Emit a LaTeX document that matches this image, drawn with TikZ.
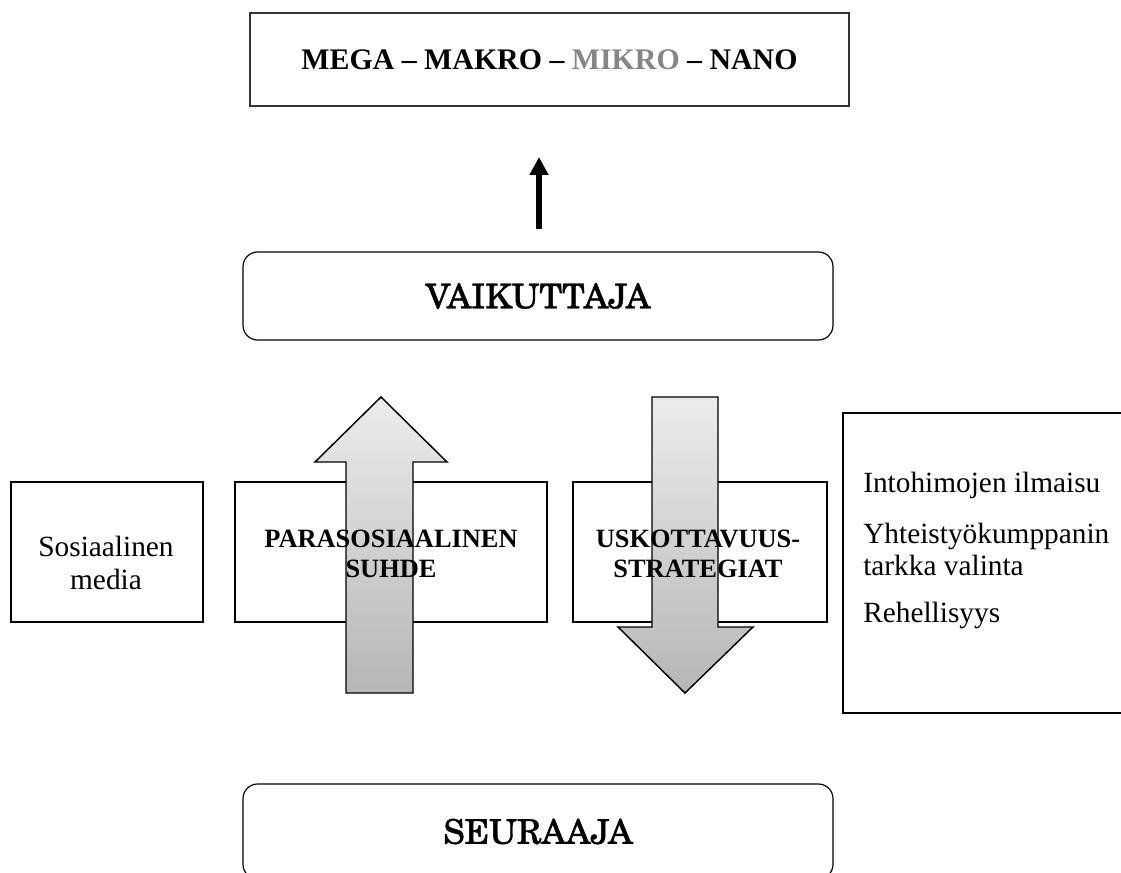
\documentclass[tikz,border=0pt]{standalone}
\usepackage{fontspec}
\setmainfont{Liberation Serif}
\newfontfamily\schola[FakeBold=1.2]{texgyreschola-regular.otf}
\usetikzlibrary{arrows.meta}
\definecolor{mikrogray}{HTML}{858585}
\definecolor{arrowtop}{HTML}{ECECEC}
\definecolor{arrowbot}{HTML}{B6B6B6}
\begin{document}
\begin{tikzpicture}[x=0.75pt,y=-0.75pt,
  plainbox/.style={draw=black, line width=0.8pt, rectangle, inner sep=0pt},
  roundbox/.style={draw=black, line width=0.9pt, rectangle, rounded corners=11pt, inner sep=0pt},
  boldlabel/.style={inner sep=0pt, align=center, font=\bfseries\fontsize{19.8}{22.5}\selectfont},
  normlabel/.style={inner sep=0pt, font=\fontsize{22}{24.75}\selectfont},
  bigname/.style={inner sep=0pt, font=\schola\fontsize{25.5}{30}\selectfont},
  fatarrow/.style={draw=black, line width=1.1pt, line join=miter, top color=arrowtop, bottom color=arrowbot},
  thinarrow/.style={line width=4.5pt, -{Triangle[width=13.5pt,length=13.5pt]}}
]
\clip (0,0) rectangle (1121,873);
\fill[white] (0,0) rectangle (1121,873);

% top box
\node[plainbox, draw=black!80, line width=1pt, minimum width=449.25pt, minimum height=69.75pt,
      font=\bfseries\fontsize{22.4}{26}\selectfont] (levels) at (549.5,59.5)
      {MEGA -- MAKRO -- \textcolor{mikrogray}{MIKRO} -- NANO};

% small arrow
\coordinate (arrS) at (539,229);
\coordinate (arrE) at (539,157);
\draw[thinarrow] (arrS) -- (arrE);

% influencer / follower
\node[roundbox, minimum width=442.5pt, minimum height=66pt] (vaik) at (538,296) {};
\node[bigname] (vaiktext) at (vaik.center) {VAIKUTTAJA};
\node[roundbox, minimum width=442.5pt, minimum height=71.25pt] (seur) at (538,831.5) {};
\node[bigname] (seurtext) at (seur.center) {SEURAAJA};

% middle boxes
\node[plainbox, minimum width=144pt, minimum height=105pt] (some) at (107,552) {};
\node[plainbox, minimum width=234pt, minimum height=105pt] (para) at (391,552) {};
\node[plainbox, minimum width=190.5pt, minimum height=105pt] (usko) at (700,552) {};
\node[plainbox, minimum width=215.25pt, minimum height=225pt] (list) at (986.5,563) {};

% fat arrows
\path[fatarrow] (346,693) -- (346,462) -- (315,462) -- (381,397) -- (447,462) -- (413,462) -- (413,693) -- cycle;
\path[fatarrow] (652,397) -- (718,397) -- (718,627) -- (753,627) -- (685,693) -- (618,627) -- (652,627) -- cycle;

% labels
\node[normlabel, align=center] (sometext) at (106,563) {Sosiaalinen\\media};
\node[boldlabel] (paratext) at (391,553.5) {PARASOSIAALINEN\\SUHDE};
\node[boldlabel] (uskotext) at (698,553.5) {USKOTTAVUUS-\\STRATEGIAT};
\node[normlabel, align=left, anchor=north west, font=\fontsize{22}{24}\selectfont] (listtext) at (863,472)
  {Intohimojen ilmaisu\\[14.25pt]Yhteistyökumppanin\\tarkka valinta\\[11pt]Rehellisyys};
\end{tikzpicture}
\end{document}
